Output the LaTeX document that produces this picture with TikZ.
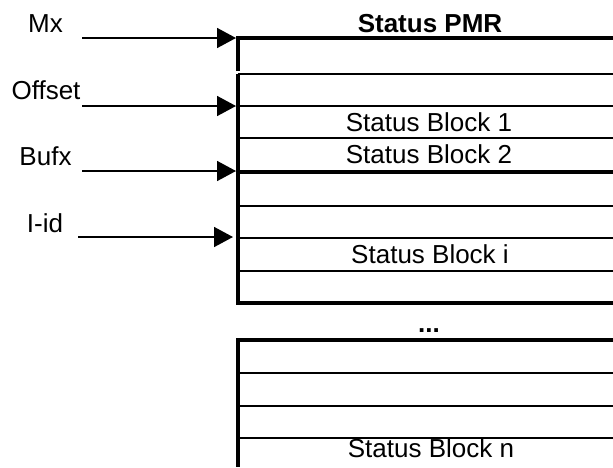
\documentclass[tikz,border=0pt]{standalone}
\usepackage{fontspec}
\setmainfont{Liberation Sans}
\usetikzlibrary{arrows.meta}
\begin{document}
\begin{tikzpicture}[x=1pt,y=-1pt,
  heavy/.style={line width=4pt},
  light/.style={line width=1.8pt},
  feed/.style={line width=1.6pt,-{Triangle[length=19pt 0 0,width=20pt 0 0]}},
  lbl/.style={anchor=base,inner sep=0pt,font=\fontsize{26}{30}\selectfont}]
\useasboundingbox (0,0) rectangle (613,467);
% labels on the left
\node[lbl] (mx) at (45.5,32) {Mx};
\node[lbl] (off) at (46,99) {Offset};
\node[lbl] (buf) at (45.5,165) {Bufx};
\node[lbl] (iid) at (45,232) {I-id};
% arrow start and end points
\coordinate (mxs) at (82,38);   \coordinate (mxe) at (236,38);
\coordinate (offs) at (82,106); \coordinate (offe) at (236,106);
\coordinate (bufs) at (82,171); \coordinate (bufe) at (236,171);
\coordinate (iids) at (78,237); \coordinate (iide) at (233,237);
\draw[feed] (mxs) -- (mxe);
\draw[feed] (offs) -- (offe);
\draw[feed] (bufs) -- (bufe);
\draw[feed] (iids) -- (iide);
% upper structure
\draw[heavy] (613,38) -| (238,71);
\draw[heavy] (238,74) -- (238,303) -- (613,303);
\draw[light] (238,74) -- (613,74);
\draw[light] (238,106) -- (613,106);
\draw[light] (238,138) -- (613,138);
\draw[heavy] (238,172) -- (613,172);
\draw[light] (238,206) -- (613,206);
\draw[light] (238,238) -- (613,238);
\draw[light] (238,271) -- (613,271);
% lower structure
\draw[heavy] (613,340) -| (238,467);
\draw[light] (238,373) -- (613,373);
\draw[light] (238,406) -- (613,406);
\draw[light] (238,438) -- (613,438);
% texts
\node[lbl,font=\fontsize{26}{30}\selectfont\bfseries] (pmr) at (430,32) {Status PMR};
\node[lbl] (sb1) at (429,131) {Status Block 1};
\node[lbl] (sb2) at (429,163) {Status Block 2};
\node[lbl] (sbi) at (430,263) {Status Block i};
\node[lbl,font=\fontsize{26}{30}\selectfont\bfseries] (dots) at (429,332) {...};
\node[lbl] (sbn) at (431,457) {Status Block n};
\end{tikzpicture}
\end{document}
